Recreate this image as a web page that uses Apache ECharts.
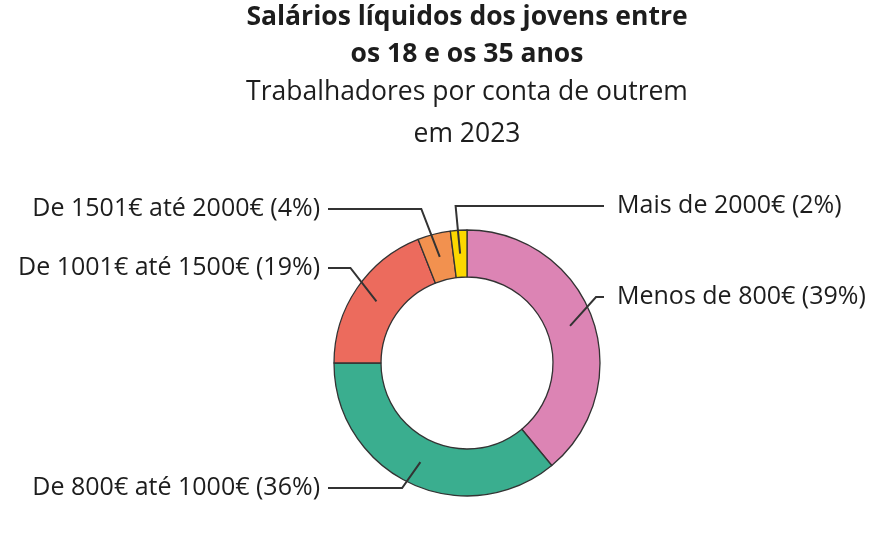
<!DOCTYPE html>
<html>
<head>
<meta charset="utf-8">
<script src="https://cdn.jsdelivr.net/npm/echarts@6/dist/echarts.min.js"></script>
<style>
html, body { margin: 0; background: #fff; }
#chart { width: 887px; height: 538px; }
</style>
</head>
<body>
<div id="chart"></div>
<script>
const categories = ['Menos de 800€', 'De 800€ até 1000€', 'De 1001€ até 1500€', 'De 1501€ até 2000€', 'Mais de 2000€'];
const shares = [39, 36, 19, 4, 2];
const colors = ['#dc84b4', '#3aae8f', '#ec6b5d', '#f2914f', '#fcd800'];

// vertical row of each label (layout only)
const labelRowY = [297, 488, 268, 209, 206];

const cx = 467, cy = 363, rIn = 86, rOut = 133;
const rMid = (rIn + rOut) / 2;
const leftEdge = 320, rightEdge = 617;
const ink = '#1d1d1d';
const stroke = '#333';
const font = 'Open Sans';

let chart = echarts.init(document.getElementById('chart'));

let sliceData = categories.map((c, i) => ({ name: c, value: shares[i], itemStyle: { color: colors[i] } }));

chart.setOption({
    backgroundColor: '#fff',
    animation: false,
    title: [{
        text: 'Salários líquidos dos jovens entre\nos 18 e os 35 anos',
        left: cx,
        top: -1,
        padding: 0,
        textAlign: 'center',
        textStyle: { fontFamily: font, fontWeight: 'bold', fontSize: 26.5, lineHeight: 37, color: ink }
    }, {
        text: 'Trabalhadores por conta de outrem\nem 2023',
        left: cx,
        top: 71,
        padding: 0,
        textAlign: 'center',
        textStyle: { fontFamily: font, fontWeight: 'normal', fontSize: 26.5, lineHeight: 42, color: ink }
    }],
    series: [{
        // the ring itself
        type: 'pie',
        center: [cx, cy],
        radius: [rIn, rOut],
        startAngle: 90,
        clockwise: true,
        silent: true,
        emphasis: { disabled: true },
        itemStyle: { borderColor: stroke, borderWidth: 1.3 },
        label: { show: false },
        labelLine: { show: false },
        data: sliceData
    }, {
        // invisible copy up to mid ring, only carries the labels and leader lines
        type: 'pie',
        z: 3,
        center: [cx, cy],
        radius: [rIn, rMid],
        startAngle: 90,
        clockwise: true,
        silent: true,
        avoidLabelOverlap: false,
        emphasis: { disabled: true },
        itemStyle: { color: 'rgba(0,0,0,0)', borderWidth: 0 },
        label: {
            formatter: '{b} ({c}%)',
            fontFamily: font,
            fontSize: 25,
            color: ink
        },
        labelLine: {
            show: true,
            length: 10,
            length2: 10,
            lineStyle: { color: stroke, width: 2 }
        },
        labelLayout: function (p) {
            let i = p.dataIndex
            let p0 = p.labelLinePoints[0]
            let sx = p0[0], sy = p0[1]
            let dx = sx - cx, dy = sy - cy
            let right = dx > -rOut * 0.1
            let y = labelRowY[i]
            let bend = Math.min(Math.abs(y - sy) * Math.abs(dx / dy) * 1.5, 26) * Math.sign(dx)
            let ex = sx + bend
            return {
                x: right ? rightEdge : leftEdge,
                y: y,
                align: right ? 'left' : 'right',
                verticalAlign: 'middle',
                labelLinePoints: [[sx, sy], [ex, y], [right ? rightEdge - 13 : leftEdge + 8, y]]
            }
        },
        data: categories.map((c, i) => ({ name: c, value: shares[i] }))
    }]
});
</script>
</body>
</html>
